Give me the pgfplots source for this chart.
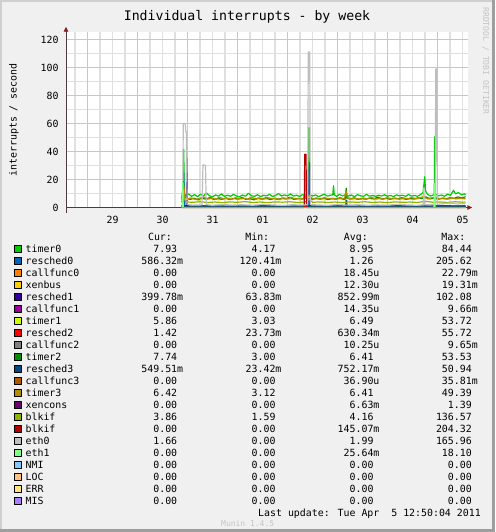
\documentclass[border=0pt]{standalone}
\usepackage{pgfplots}
\pgfplotsset{compat=1.18}
\usepackage{fontspec}
\setmainfont{DejaVu Sans Mono}
\usetikzlibrary{arrows.meta}
\definecolor{bgc}{HTML}{F0F0F0}
\definecolor{shadeA}{HTML}{CFCFCF}
\definecolor{shadeB}{HTML}{9E9E9E}
\definecolor{gridred}{HTML}{F4B4B4}
\definecolor{gridgray}{HTML}{E0E0E0}
\definecolor{axisc}{HTML}{4F3A44}
\definecolor{arrowc}{HTML}{801F1F}
\definecolor{faint}{HTML}{C4C4C4}
\definecolor{cA}{HTML}{00CC00}
\definecolor{cB}{HTML}{0066B3}
\definecolor{cC}{HTML}{FF8000}
\definecolor{cD}{HTML}{FFCC00}
\definecolor{cE}{HTML}{330099}
\definecolor{cF}{HTML}{990099}
\definecolor{cG}{HTML}{CCFF00}
\definecolor{cH}{HTML}{FF0000}
\definecolor{cI}{HTML}{808080}
\definecolor{cJ}{HTML}{008F00}
\definecolor{cK}{HTML}{00487D}
\definecolor{cL}{HTML}{B35A00}
\definecolor{cM}{HTML}{B38F00}
\definecolor{cN}{HTML}{6B006B}
\definecolor{cO}{HTML}{8FB300}
\definecolor{cP}{HTML}{B30000}
\definecolor{cQ}{HTML}{BEBEBE}
\definecolor{cR}{HTML}{80FF80}
\definecolor{cS}{HTML}{80C9FF}
\definecolor{cT}{HTML}{FFC080}
\definecolor{cU}{HTML}{FFE680}
\definecolor{cV}{HTML}{AA80FF}
\newcommand{\sfx}{\phantom{0}}
\newcommand{\lrow}[6]{\addlegendimage{legend image code/.code={\draw[line width=0.7pt,black,fill=#1] (0pt,-3.6pt) rectangle (7.2pt,3.6pt);}}%
\addlegendentry{\makebox[115.5pt][l]{#2}\makebox[42pt][r]{#3}\makebox[98.3pt][r]{#4}\makebox[98pt][r]{#5}\makebox[98.3pt][r]{#6}}}
\begin{document}
\begin{tikzpicture}
\fill[bgc] (0pt,0pt) rectangle (495pt,-532pt);
\fill[shadeA] (0pt,0pt) rectangle (495pt,-2pt);
\fill[shadeA] (0pt,0pt) rectangle (2pt,-532pt);
\fill[shadeB] (0pt,-529pt) rectangle (495pt,-532pt);
\fill[shadeB] (492pt,0pt) rectangle (495pt,-532pt);
\begin{axis}[
  at={(66pt,-207.5pt)}, anchor=south west,
  scale only axis, width=401.7pt, height=175.2pt,
  xmin=-0.43, xmax=7.604, ymin=0, ymax=125.14,
  axis background/.style={fill=white},
  axis line style={draw=none},
  xmajorgrids=true,
  major grid style={draw=gridred, line width=1.4pt},
  xtick={0,1,2,3,4,5,6,7},
  xticklabel=\empty,
  extra x ticks={0.5,1.5,2.5,3.5,4.5,5.5,6.5,7.5},
  extra x tick labels={29,30,31,01,02,03,04,05},
  extra x tick style={major grid style={draw=gridgray, line width=1.4pt}},
  ytick={0,20,40,60,80,100,120},
  tick style={draw=none},
  tick label style={font=\fontsize{9.9}{12}\selectfont, inner sep=0pt},
  xticklabel style={anchor=north, yshift=-8pt},
  yticklabel style={anchor=east, xshift=-7.3pt},
  /pgf/number format/assume math mode=true,
  clip=false,
  every axis plot/.append style={line width=1.2pt, line join=round, forget plot},
  legend cell align=left,
  legend style={at={(-0.13032,-0.13413)}, anchor=north west, draw=none, fill=none,
    inner sep=0pt, outer sep=0pt, row sep=0pt, column sep=4.1pt,
    font=\fontsize{9.9}{12}\selectfont,
    nodes={inner sep=0pt, text height=9.6pt, text depth=2.4pt}},
]
% grid lines
\pgfplotsinvokeforeach{-0.25,0.25,0.5,0.75,1.25,1.5,1.75,2.25,2.5,2.75,3.25,3.5,3.75,4.25,4.5,4.75,5.25,5.5,5.75,6.25,6.5,6.75,7.25,7.5}{
  \draw[gridgray, line width=1.4pt] (axis cs:#1,0) -- (axis cs:#1,125.14);
}
\pgfplotsinvokeforeach{10,30,50,70,90,110}{
  \draw[gridgray, line width=1.4pt] (axis cs:-0.43,#1) -- (axis cs:7.604,#1);
}
\pgfplotsinvokeforeach{0,1,2,3,4,5,6,7}{
  \draw[gridred, line width=1.4pt] (axis cs:#1,0) -- (axis cs:#1,125.14);
}
\pgfplotsinvokeforeach{20,40,60,80,100,120}{
  \draw[gridred, line width=1.4pt] (axis cs:-0.43,#1) -- (axis cs:7.604,#1);
}
\draw[axisc, line width=0.9pt, shorten >=-4.6pt, -{Triangle[length=5pt,width=4.5pt,color=arrowc,fill=arrowc]}] (axis cs:-0.43,0) -- (axis cs:7.604,0);
\draw[axisc, line width=0.9pt, shorten >=-5.6pt, shorten <=-5pt, -{Triangle[length=5pt,width=4.5pt,color=arrowc,fill=arrowc]}] (axis cs:-0.43,0) -- (axis cs:-0.43,125.14);
% timer0
\addplot[cA] table {
x y
1.88 7.6
1.90 8.9
1.915 12
1.925 41.5
1.935 10
1.96 8.6
2.02 9.8
2.08 8.0
2.14 9.2
2.20 7.8
2.26 9.5
2.32 8.2
2.38 10.3
2.44 8.4
2.50 7.6
2.56 9.0
2.62 8.1
2.68 9.7
2.74 7.9
2.80 8.8
2.86 8.0
2.92 9.3
2.98 8.2
3.04 7.7
3.10 8.9
3.16 8.1
3.22 10.2
3.28 8.4
3.34 8.0
3.40 9.1
3.46 7.8
3.52 8.7
3.58 8.3
3.64 9.4
3.70 7.9
3.76 8.6
3.82 10.0
3.88 8.2
3.94 9.0
4.00 8.3
4.06 9.7
4.12 8.1
4.18 8.8
4.24 7.9
4.30 9.2
4.36 8.4
4.41 8.9
4.425 57
4.435 57
4.45 9.1
4.50 8.2
4.56 9.0
4.62 7.8
4.68 8.7
4.74 9.5
4.80 8.1
4.86 8.8
4.905 9.0
4.92 15.6
4.935 9.2
4.98 8.0
5.04 9.3
5.10 8.4
5.16 9.0
5.22 8.2
5.28 8.9
5.34 7.7
5.40 9.2
5.46 8.3
5.52 8.0
5.58 9.4
5.64 8.1
5.70 8.6
5.76 7.9
5.82 8.8
5.88 8.2
5.94 9.1
6.00 8.0
6.06 8.7
6.12 7.8
6.18 9.0
6.24 8.3
6.30 8.8
6.36 8.0
6.42 9.3
6.48 8.1
6.54 8.6
6.60 8.0
6.66 9.2
6.71 10.6
6.745 22
6.76 12
6.80 9.4
6.86 8.2
6.92 9.0
6.935 9.3
6.945 50.5
6.955 9.6
7.02 8.3
7.08 8.9
7.14 8.0
7.20 9.6
7.26 8.7
7.32 12.3
7.36 9.8
7.42 10.6
7.48 9.1
7.54 9.8
7.56 9.0
};
% resched0
\addplot[cB] table {
x y
1.88 1.2
1.915 1.5
1.925 25
1.935 1.4
2.10 1.0
2.40 1.3
2.70 0.9
3.00 1.2
3.30 1.0
3.60 1.4
3.90 0.9
4.20 1.1
4.42 1.3
4.43 28
4.44 1.2
4.70 1.0
5.00 1.3
5.30 0.9
5.60 1.2
5.90 1.0
6.20 1.3
6.50 0.9
6.80 1.1
7.10 1.4
7.40 1.0
7.56 1.1
};
\addplot[cC] coordinates {(1.88,0) (7.56,0)};
\addplot[cD] coordinates {(1.88,0) (7.56,0)};
% resched1
\addplot[cE] table {
x y
1.88 0.8
1.975 0.9
1.985 35
1.995 0.8
2.20 0.6
2.60 0.9
3.00 0.7
3.40 1.0
3.80 0.6
4.20 0.8
4.435 0.9
4.44 32
4.45 0.8
4.80 0.7
5.20 0.9
5.60 0.6
6.00 0.8
6.40 1.0
6.80 0.7
7.20 0.9
7.56 0.8
};
\addplot[cF] coordinates {(1.88,0) (7.56,0)};
% timer1
\addplot[cG] table {
x y
1.88 5.4
1.915 15
1.94 6.2
2.02 5.6
2.12 6.3
2.22 5.3
2.32 6.0
2.42 5.7
2.52 6.5
2.62 5.4
2.72 6.1
2.82 5.6
2.92 6.4
3.02 5.5
3.12 6.2
3.22 5.8
3.32 6.6
3.42 5.4
3.52 6.0
3.62 5.7
3.72 6.3
3.82 5.5
3.92 6.1
4.02 5.8
4.12 6.5
4.22 5.6
4.32 6.0
4.42 7.5
4.52 5.7
4.62 6.2
4.72 5.5
4.82 6.4
4.92 5.8
5.02 6.1
5.12 5.6
5.22 6.3
5.32 5.5
5.42 6.0
5.52 5.7
5.62 6.4
5.72 5.6
5.82 6.1
5.92 5.8
6.02 6.5
6.12 5.5
6.22 6.2
6.32 5.7
6.42 6.0
6.52 5.6
6.62 6.3
6.72 8.0
6.82 5.9
6.92 6.4
7.02 5.7
7.12 6.2
7.22 5.8
7.32 6.6
7.42 6.0
7.50 6.3
7.56 5.9
};
% resched2
\addplot[cH] table {
x y
1.88 0.6
2.30 0.8
2.80 0.5
3.30 0.7
3.80 0.6
4.30 0.9
4.80 0.5
5.30 0.7
5.80 0.6
6.30 0.8
6.80 0.5
7.30 0.7
7.56 1.4
};
\addplot[cI] coordinates {(1.88,0) (7.56,0)};
% timer2
\addplot[cJ] table {
x y
1.88 6.2
1.93 8.5
1.97 7.0
2.05 5.8
2.13 6.6
2.21 5.5
2.29 6.9
2.37 6.0
2.45 7.2
2.53 5.7
2.61 6.4
2.69 5.9
2.77 6.8
2.85 5.6
2.93 6.5
3.01 6.1
3.09 7.1
3.17 5.8
3.25 6.3
3.33 5.5
3.41 6.7
3.49 6.0
3.57 7.0
3.65 5.7
3.73 6.4
3.81 5.9
3.89 6.6
3.97 6.2
4.05 7.3
4.13 5.8
4.21 6.5
4.29 6.1
4.37 6.9
4.43 9.0
4.49 5.9
4.57 6.5
4.65 6.0
4.73 6.7
4.81 5.6
4.89 6.4
4.97 6.0
5.05 7.0
5.13 5.7
5.16 6.3
5.175 13.8
5.19 6.8
5.25 6.1
5.33 6.9
5.41 5.8
5.49 6.4
5.57 6.0
5.65 6.8
5.73 6.2
5.81 7.4
5.89 6.0
5.97 6.6
6.05 5.9
6.13 6.7
6.21 6.3
6.29 7.0
6.37 5.8
6.45 6.5
6.53 6.1
6.61 6.9
6.69 6.4
6.77 7.5
6.85 6.2
6.93 6.8
7.01 6.0
7.09 6.6
7.17 6.2
7.25 7.0
7.33 6.5
7.41 7.6
7.49 6.8
7.56 7.7
};
% resched3
\addplot[cK] table {
x y
1.88 0.7
2.20 0.5
2.70 0.8
3.20 0.6
3.70 0.7
4.20 0.5
4.70 0.8
5.165 0.7
5.17 5.0
5.185 5.0
5.19 0.6
5.60 0.7
6.10 0.5
6.60 0.8
7.10 0.6
7.56 0.5
};
\addplot[cL] coordinates {(1.88,0) (7.56,0)};
% timer3
\addplot[cM] table {
x y
1.88 5.8
1.92 17
1.95 7.2
2.00 6.0
2.08 6.9
2.16 5.7
2.24 6.4
2.32 7.6
2.40 6.1
2.48 6.8
2.56 5.9
2.64 7.3
2.72 6.2
2.80 6.7
2.88 5.8
2.96 7.0
3.04 6.3
3.12 6.6
3.20 5.9
3.28 7.4
3.36 6.1
3.44 6.8
3.52 6.0
3.60 7.1
3.68 6.4
3.76 6.7
3.84 5.8
3.92 6.9
4.00 6.2
4.08 7.2
4.16 6.0
4.24 6.6
4.32 6.3
4.345 11
4.37 6.9
4.44 8.5
4.50 6.1
4.58 6.8
4.66 6.0
4.74 7.0
4.82 6.3
4.90 6.6
4.98 5.9
5.06 6.9
5.14 6.2
5.17 12
5.20 7.0
5.28 6.1
5.36 6.7
5.44 5.9
5.52 6.8
5.60 6.2
5.68 7.3
5.76 6.0
5.84 6.6
5.92 6.1
6.00 7.0
6.08 6.3
6.16 6.7
6.24 5.9
6.32 6.8
6.40 6.1
6.48 7.1
6.56 6.4
6.64 6.6
6.72 7.8
6.80 6.2
6.88 6.9
6.96 7.5
7.04 6.3
7.12 6.8
7.20 6.0
7.28 6.9
7.36 6.2
7.44 6.7
7.52 6.4
7.56 6.5
};
\addplot[cN] coordinates {(1.88,0) (7.56,0)};
% blkif
\addplot[cO] table {
x y
1.88 3.6
1.92 9.0
1.96 4.0
2.10 3.7
2.25 4.1
2.40 3.6
2.55 3.9
2.70 3.5
2.85 4.0
3.00 3.7
3.15 4.2
3.30 3.6
3.45 3.9
3.60 3.5
3.75 4.0
3.90 3.8
4.05 4.1
4.20 3.6
4.35 3.9
4.43 6.0
4.50 3.7
4.65 4.0
4.80 3.6
4.95 3.9
5.10 3.5
5.25 4.0
5.40 3.7
5.55 4.1
5.70 3.6
5.85 3.9
6.00 3.5
6.15 4.0
6.30 3.7
6.45 3.9
6.60 3.6
6.75 4.4
6.90 3.8
7.05 4.0
7.20 3.6
7.35 4.1
7.50 3.8
7.56 3.9
};
% blkif (2)
\addplot[cP] table {
x y
1.88 0
4.335 0
4.345 38
4.37 38
4.38 0
7.56 0
};
% eth0
\addplot[cQ] table {
x y
1.88 1.8
1.905 2.0
1.915 60
1.955 60
1.965 54
1.98 54
1.99 2.2
2.10 1.7
2.29 1.9
2.31 30.5
2.36 30
2.375 2.0
2.50 1.6
2.70 2.1
2.90 1.7
3.10 2.0
3.30 1.6
3.50 2.2
3.70 1.8
3.90 1.5
4.10 2.0
4.30 1.7
4.405 2.0
4.415 111
4.445 111
4.455 2.1
4.60 1.8
4.80 1.6
5.00 2.1
5.20 1.7
5.40 2.0
5.60 1.6
5.80 1.9
6.00 1.7
6.20 2.2
6.40 1.8
6.60 1.6
6.715 2.0
6.725 14
6.735 2.4
6.85 1.9
6.955 2.0
6.965 99
6.985 99
6.995 2.2
7.10 2.8
7.25 3.2
7.40 2.5
7.50 2.9
7.56 2.6
};
% eth1
\addplot[cR] table {
x y
1.88 0
1.895 0
1.905 18
1.915 0
6.93 0
6.94 17
6.95 0
7.56 0
};
\addplot[cS] coordinates {(1.88,0) (7.56,0)};
\addplot[cT] coordinates {(1.88,0) (7.56,0)};
\addplot[cU] coordinates {(1.88,0) (7.56,0)};
\addplot[cV] coordinates {(1.88,0) (7.56,0)};
% legend table
\addlegendimage{empty legend}
\addlegendentry{\hspace*{122.4pt}\rlap{Cur:}\hspace*{97.3pt}\rlap{Min:}\hspace*{98.6pt}\rlap{Avg:}\hspace*{97.5pt}Max:}
\lrow{cA}{timer0}{7.93\sfx}{4.17\sfx}{8.95\sfx}{84.44\sfx}
\lrow{cB}{resched0}{586.32m}{120.41m}{1.26\sfx}{205.62\sfx}
\lrow{cC}{callfunc0}{0.00\sfx}{0.00\sfx}{18.45u}{22.79m}
\lrow{cD}{xenbus}{0.00\sfx}{0.00\sfx}{12.30u}{19.31m}
\lrow{cE}{resched1}{399.78m}{63.83m}{852.99m}{102.08\sfx}
\lrow{cF}{callfunc1}{0.00\sfx}{0.00\sfx}{14.35u}{9.66m}
\lrow{cG}{timer1}{5.86\sfx}{3.03\sfx}{6.49\sfx}{53.72\sfx}
\lrow{cH}{resched2}{1.42\sfx}{23.73m}{630.34m}{55.72\sfx}
\lrow{cI}{callfunc2}{0.00\sfx}{0.00\sfx}{10.25u}{9.65m}
\lrow{cJ}{timer2}{7.74\sfx}{3.00\sfx}{6.41\sfx}{53.53\sfx}
\lrow{cK}{resched3}{549.51m}{23.42m}{752.17m}{50.94\sfx}
\lrow{cL}{callfunc3}{0.00\sfx}{0.00\sfx}{36.90u}{35.81m}
\lrow{cM}{timer3}{6.42\sfx}{3.12\sfx}{6.41\sfx}{49.39\sfx}
\lrow{cN}{xencons}{0.00\sfx}{0.00\sfx}{6.63m}{1.39\sfx}
\lrow{cO}{blkif}{3.86\sfx}{1.59\sfx}{4.16\sfx}{136.57\sfx}
\lrow{cP}{blkif}{0.00\sfx}{0.00\sfx}{145.07m}{204.32\sfx}
\lrow{cQ}{eth0}{1.66\sfx}{0.00\sfx}{1.99\sfx}{165.96\sfx}
\lrow{cR}{eth1}{0.00\sfx}{0.00\sfx}{25.64m}{18.10\sfx}
\lrow{cS}{NMI}{0.00\sfx}{0.00\sfx}{0.00\sfx}{0.00\sfx}
\lrow{cT}{LOC}{0.00\sfx}{0.00\sfx}{0.00\sfx}{0.00\sfx}
\lrow{cU}{ERR}{0.00\sfx}{0.00\sfx}{0.00\sfx}{0.00\sfx}
\lrow{cV}{MIS}{0.00\sfx}{0.00\sfx}{0.00\sfx}{0.00\sfx}
\addlegendimage{empty legend}
\addlegendentry{\makebox[455.1pt][r]{Last update: Tue Apr\sfx\sfx5 12:50:04 2011}}
\end{axis}
\node[font=\fontsize{13.2}{16}\selectfont] at (247pt,-16.7pt) {Individual interrupts - by week};
\node[font=\fontsize{9.9}{12}\selectfont, rotate=90] at (14pt,-120pt) {interrupts / second};
\node[font=\fontsize{8.1}{10}\selectfont, text=faint, rotate=-90] at (485.7pt,-61pt) {RRDTOOL / TOBI OETIKER};
\node[font=\fontsize{8}{10}\selectfont, text=faint] at (247.7pt,-524pt) {Munin 1.4.5};
\pgfresetboundingbox
\path (0pt,0pt) rectangle (495pt,-532pt);
\end{tikzpicture}
\end{document}
